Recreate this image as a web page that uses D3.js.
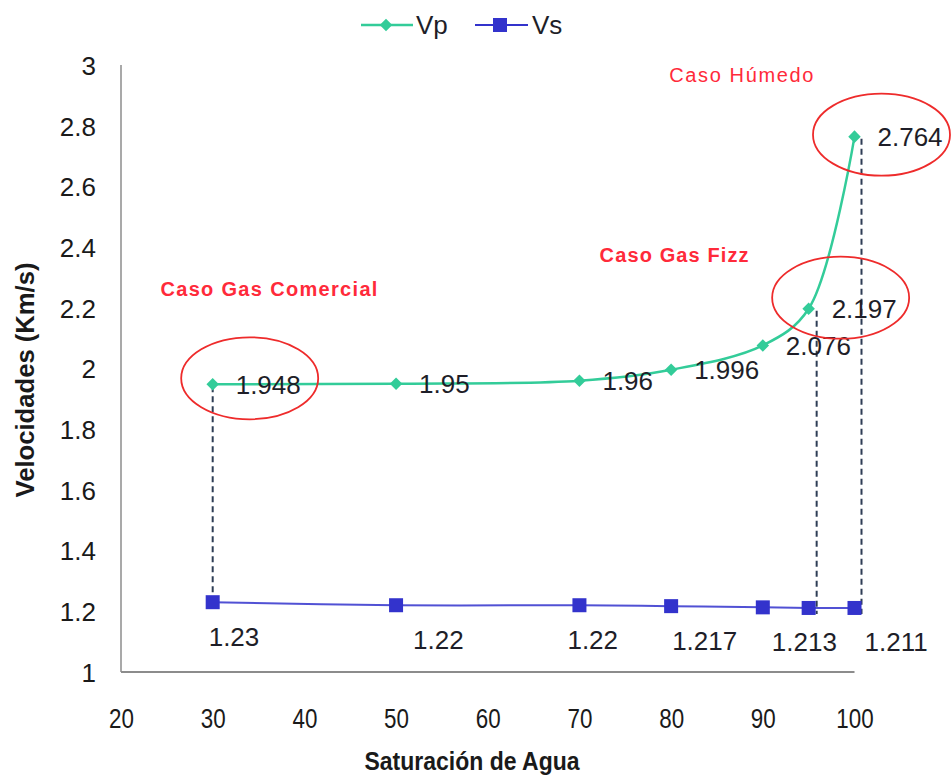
<!DOCTYPE html>
<html>
<head>
<meta charset="utf-8">
<script src="https://cdn.jsdelivr.net/npm/d3@7"></script>
<style>
  html, body { margin: 0; padding: 0; background: #fff; }
  svg { display: block; font-family: "Liberation Sans", Arial, sans-serif; }
</style>
</head>
<body>
<svg id="chart" width="951" height="778"></svg>
<script>
// ---- data ----
const saturation = [30, 50, 70, 80, 90, 95, 100];
const vpValues = [1.948, 1.95, 1.96, 1.996, 2.076, 2.197, 2.764];
const vsValues = [1.23, 1.22, 1.22, 1.217, 1.213, 1.211, 1.211];
const vpLabels = ["1.948", "1.95", "1.96", "1.996", "2.076", "2.197", "2.764"];
const vsLabels = ["1.23", "1.22", "1.22", "1.217", "1.213", "", "1.211"];
const xTickValues = [20, 30, 40, 50, 60, 70, 80, 90, 100];
const yTickValues = [1, 1.2, 1.4, 1.6, 1.8, 2, 2.2, 2.4, 2.6, 2.8, 3];
const highlighted = [0, 5, 6];            // indices with circles + dashed connectors
const annotations = [
  { text: "Caso Gas Comercial", x: 24.3, y: 2.264, bold: true },
  { text: "Caso Gas Fizz", x: 72.2, y: 2.373, bold: true },
  { text: "Caso Húmedo", x: 79.8, y: 2.967, bold: false }
];

// ---- layout / style ----
const vpColor = "#33cc99", vsColor = "#3333cc";
const svg = d3.select("#chart");
const x = d3.scaleLinear().domain([20, 100]).range([121, 854.5]);
const y = d3.scaleLinear().domain([1, 3]).range([672, 65]);
const vsLabelNudge = [-4, 17, -12, 1, 9, 0, 10];
const connectorNudge = { 0: 0, 5: 8, 6: 7 };
const ellipseNudge = { 0: [37, -6], 5: [32, -11], 6: [27, -2] };
const annoLen = { "Caso Gas Comercial": 217, "Caso Gas Fizz": 149, "Caso Húmedo": 144 };

// axes lines
const axisColor = "#8c8c8c";
svg.append("line").attr("x1", x(20)).attr("x2", x(20)).attr("y1", y(3)).attr("y2", y(1))
  .attr("stroke", axisColor).attr("stroke-width", 1.5);
svg.append("line").attr("x1", x(20)).attr("x2", x(100)).attr("y1", y(1)).attr("y2", y(1))
  .attr("stroke", axisColor).attr("stroke-width", 2);

// y ticks
const yAxis = d3.axisLeft(y).tickValues(yTickValues).tickSize(0).tickPadding(0)
  .tickFormat(d => d3.format("~g")(d));
const gy = svg.append("g").attr("transform", `translate(96,0)`).call(yAxis);
gy.select(".domain").remove();
gy.selectAll("text").attr("font-size", 26).attr("fill", "#1a1a1a")
  .attr("font-family", "Liberation Sans, Arial, sans-serif").attr("dy", "0.36em");

// x ticks
const xAxis = d3.axisBottom(x).tickValues(xTickValues).tickSize(0).tickPadding(0);
const gx = svg.append("g").attr("transform", `translate(0,728)`).call(xAxis);
gx.select(".domain").remove();
gx.selectAll("text").attr("font-size", 28).attr("fill", "#1a1a1a").attr("dy", 0)
  .attr("font-family", "Liberation Sans, Arial, sans-serif")
  .attr("transform", "scale(0.8,1)");

// axis titles
svg.append("g").attr("transform", "translate(472,770)")
  .append("text").attr("text-anchor", "middle").attr("font-weight", "bold")
  .attr("font-size", 26).attr("fill", "#1a1a1a")
  .attr("textLength", 215).attr("lengthAdjust", "spacingAndGlyphs")
  .text("Saturación de Agua");
svg.append("g").attr("transform", "translate(34,380) rotate(-90)")
  .append("text").attr("text-anchor", "middle").attr("font-weight", "bold")
  .attr("font-size", 25).attr("fill", "#1a1a1a")
  .attr("textLength", 235).attr("lengthAdjust", "spacingAndGlyphs")
  .text("Velocidades (Km/s)");

// dashed connectors
highlighted.forEach(i => {
  const xp = x(saturation[i]) + connectorNudge[i];
  svg.append("line").attr("x1", xp).attr("x2", xp)
    .attr("y1", y(vpValues[i]) + 2).attr("y2", y(vsValues[i]) + 6)
    .attr("stroke", "#2e3d55").attr("stroke-width", 2).attr("stroke-dasharray", "6,4");
});

// lines
const idx = d3.range(saturation.length);
const vpLine = d3.line().x(i => x(saturation[i])).y(i => y(vpValues[i])).curve(d3.curveCatmullRom.alpha(0.5));
const vsLine = d3.line().x(i => x(saturation[i])).y(i => y(vsValues[i])).curve(d3.curveCatmullRom.alpha(0.5));
svg.append("path").attr("d", vsLine(idx)).attr("fill", "none").attr("stroke", vsColor).attr("stroke-width", 2).attr("opacity", 0.85);
svg.append("path").attr("d", vpLine(idx)).attr("fill", "none").attr("stroke", vpColor).attr("stroke-width", 2.5);

// markers
const diamond = d3.symbol().type(d3.symbolDiamond2).size(100);
svg.append("g").selectAll("path").data(idx).join("path")
  .attr("d", diamond).attr("fill", vpColor)
  .attr("transform", i => `translate(${x(saturation[i])},${y(vpValues[i])})`);
svg.append("g").selectAll("rect").data(idx).join("rect")
  .attr("x", i => x(saturation[i]) - 7).attr("y", i => y(vsValues[i]) - 7)
  .attr("width", 14).attr("height", 14).attr("fill", vsColor);

// data labels
svg.append("g").selectAll("text").data(idx).join("text")
  .attr("x", i => x(saturation[i]) + 23).attr("y", i => y(vpValues[i]))
  .attr("dy", "0.36em").attr("font-size", 26).attr("fill", "#1e1e28")
  .text(i => vpLabels[i]);
svg.append("g").selectAll("text").data(idx.filter(i => vsLabels[i] !== "")).join("text")
  .attr("x", i => x(saturation[i]) + vsLabelNudge[i]).attr("y", i => y(vsValues[i]) + 34)
  .attr("dy", "0.36em").attr("font-size", 26).attr("fill", "#1e1e28")
  .text(i => vsLabels[i]);

// ellipses
highlighted.forEach(i => {
  svg.append("ellipse")
    .attr("cx", x(saturation[i]) + ellipseNudge[i][0])
    .attr("cy", y(vpValues[i]) + ellipseNudge[i][1])
    .attr("rx", 68.5).attr("ry", 41)
    .attr("fill", "none").attr("stroke", "#ee2b2b").attr("stroke-width", 1.8);
});

// annotations
annotations.forEach(a => {
  svg.append("text").attr("x", x(a.x)).attr("y", y(a.y)).attr("dy", "0.36em")
    .attr("font-size", 20).attr("font-weight", a.bold ? "bold" : "normal")
    .attr("fill", "#ff2a3a")
    .attr("textLength", annoLen[a.text]).attr("lengthAdjust", "spacing")
    .text(a.text);
});

// legend
const leg = svg.append("g").attr("transform", "translate(0,25)");
leg.append("line").attr("x1", 361).attr("x2", 413).attr("stroke", vpColor).attr("stroke-width", 2.5);
leg.append("path").attr("d", diamond).attr("transform", "translate(386,0)").attr("fill", vpColor);
leg.append("text").attr("x", 416).attr("dy", "0.36em").attr("font-size", 26).attr("fill", "#1e1e28").text("Vp");
leg.append("line").attr("x1", 475).attr("x2", 528).attr("stroke", vsColor).attr("stroke-width", 2);
leg.append("rect").attr("x", 493).attr("y", -7).attr("width", 14).attr("height", 14).attr("fill", vsColor);
leg.append("text").attr("x", 532).attr("dy", "0.36em").attr("font-size", 26).attr("fill", "#1e1e28").text("Vs");
</script>
</body>
</html>
